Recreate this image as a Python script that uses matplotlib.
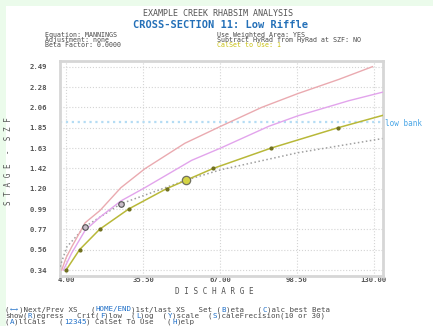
import matplotlib
matplotlib.use('Agg')
import matplotlib.pyplot as plt
from matplotlib.patches import Rectangle

W, H = 433, 326

# axis ticks
x_ticks = [4.00, 35.50, 67.00, 98.50, 130.00]
x_labels = ['4.00', '35.50', '67.00', '98.50', '130.00']
y_ticks = [0.34, 0.555, 0.77, 0.985, 1.20, 1.415, 1.63, 1.845, 2.06, 2.275, 2.49]
y_labels = ['0.34', '0.56', '0.77', '0.99', '1.20', '1.42', '1.63', '1.85', '2.06', '2.28', '2.49']

# calset rating curve (yellow)
cal_q = [4.0, 9.5, 17.7, 29.6, 45.1, 64.3, 88.0, 115.4, 133.6]
cal_s = [0.34, 0.555, 0.77, 0.985, 1.20, 1.415, 1.63, 1.845, 1.975]

# upper curves
red_q = [2.2, 4.0, 6.3, 11.8, 17.9, 26.4, 36.2, 52.6, 67.3, 84.1, 98.8, 115.7, 129.4]
red_s = [0.34, 0.47, 0.585, 0.84, 0.97, 1.21, 1.41, 1.68, 1.86, 2.06, 2.205, 2.356, 2.49]
mag_q = [2.9, 6.3, 11.8, 17.9, 26.4, 36.2, 55.4, 67.3, 87.0, 98.8, 119.7, 133.5]
mag_s = [0.34, 0.52, 0.76, 0.90, 1.07, 1.21, 1.50, 1.63, 1.86, 1.97, 2.13, 2.22]

# regression through measured points (grey dotted)
reg_q = [1.5, 4.3, 11.8, 26.4, 53.1, 67.3, 98.8, 133.5]
reg_s = [0.375, 0.585, 0.80, 1.04, 1.29, 1.40, 1.58, 1.73]

obs_q = [11.8, 26.4]
obs_s = [0.80, 1.04]
cal_pt_q = [53.1]
cal_pt_s = [1.29]

low_bank = 1.90

MONO = 'DejaVu Sans Mono'
BLUE = '#2070c8'
GREY = '#4a4a4a'


def line(x, y, text, size, color=GREY, weight='normal', ha='left'):
    # {..} marks chars drawn in blue; runs are laid on the mono grid
    if '{' not in text:
        fig.text(x / W, 1 - y / H, text, color=color, fontsize=size, family=MONO,
                 weight=weight, ha=ha, va='center')
        return
    adv = 0.60205 * size * 100 / 72
    runs, cur, on = [], '', False
    for c in text:
        if c in '{}':
            if cur:
                runs.append((cur, on))
            cur, on = '', c == '{'
        else:
            cur += c
    if cur:
        runs.append((cur, on))
    col = 0
    for s, hi in runs:
        fig.text((x + col * adv) / W, 1 - y / H, s, color=BLUE if hi else color,
                 fontsize=size, family=MONO, weight=weight, ha='left', va='center')
        col += len(s)


fig = plt.figure(figsize=(W / 100, H / 100), dpi=100, facecolor='#ebfbeb')
fig.patches.append(Rectangle((6 / W, 0), 1, 1 - 6 / H, transform=fig.transFigure,
                             facecolor='white', edgecolor='none', zorder=-1))

ax = fig.add_axes([59.5 / W, 1 - 276 / H, (382.7 - 59.5) / W, (276 - 61) / H])
ax.set_xlim(1.3, 133.6)
ax.set_ylim(0.277, 2.55)

ax.set_xticks(x_ticks, x_labels)
ax.set_yticks(y_ticks, y_labels)
ax.tick_params(length=0, labelsize=5.2, labelcolor='#555555')
ax.tick_params(axis='x', pad=0.5)
ax.tick_params(axis='y', pad=9)
for lab in ax.get_xticklabels() + ax.get_yticklabels():
    lab.set_family(MONO)
    lab.set_weight('bold')
for sp in ax.spines.values():
    sp.set_color('#d6d6d6')
    sp.set_linewidth(2)
ax.grid(True, color='#d4d4d4', linestyle=':', linewidth=0.8)

ax.axhline(low_bank, color='#b4dcf4', lw=1.6, ls=':', zorder=2)
ax.plot(reg_q, reg_s, color='#a0a0a0', lw=1.1, ls=':', zorder=3)
ax.plot(red_q, red_s, color='#eaaab0', lw=1.0, zorder=3)
ax.plot(mag_q, mag_s, color='#e2a4ec', lw=1.0, zorder=3)
ax.plot(cal_q, cal_s, color='#b8b838', lw=1.1, zorder=4,
        marker='o', ms=2, mfc='#707020', mec='#707020', markevery=list(range(8)))
ax.plot(obs_q, obs_s, ls='none', marker='o', ms=4, mfc='#c8bcc8', mec='#505050',
        mew=0.8, zorder=5)
ax.plot(cal_pt_q, cal_pt_s, ls='none', marker='o', ms=6, mfc='#d4d444', mec='#707060',
        mew=0.9, zorder=6)

# header
line(218, 13, 'EXAMPLE CREEK RHABSIM ANALYSIS', 6.0, color='#555555', ha='center')
line(220, 25.5, 'CROSS-SECTION 11: Low Riffle', 7.5, color='#2470b8', weight='bold', ha='center')
line(45, 35, 'Equation: MANNINGS', 4.8)
line(45, 40, 'Adjustment: none', 4.8)
line(45, 45, 'Beta Factor: 0.0000', 4.8)
line(217, 35, 'Use Weighted Area: YES', 4.8)
line(217, 40, 'Subtract HyRad from HyRad at SZF: NO', 4.8)
line(217, 45, 'CalSet to Use: 1', 4.8, color='#c8c010')

line(385, 123, 'low bank', 5.5, color='#4aa6e6')

# axis titles
fig.text(214 / W, 1 - 291 / H, 'D I S C H A R G E', fontsize=5.5, family=MONO,
         color='#555555', ha='center', va='center')
fig.text(9 / W, 1 - 161 / H, 'S T A G E  -  S Z F', fontsize=5.5, family=MONO,
         color='#555555', ha='center', va='center', rotation=90)

# key help
line(5, 309.5, '({←→})Next/Prev XS   ({HOME/END})1st/last XS   Set ({B})eta   ({C})alc best Beta', 5.4)
line(5, 315.5, 'show({R})egress   Crit({F})low  ({L})og  ({Y})scale  ({S})caleFrecision(10 or 30)', 5.4)
line(5, 321.5, '({A})llCals   ({12345}) CalSet To Use   ({H})elp', 5.4)

fig.savefig('out.png', dpi=100, facecolor=fig.get_facecolor())
